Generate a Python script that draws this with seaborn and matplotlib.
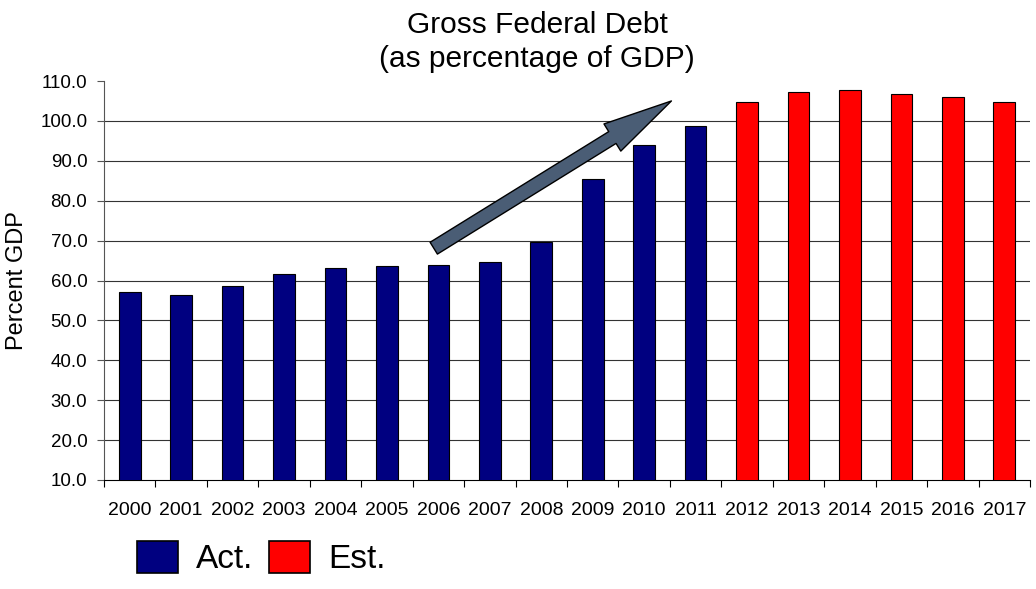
import matplotlib
matplotlib.use("Agg")
import matplotlib.pyplot as plt
import seaborn as sns
import pandas as pd

years = ["2000", "2001", "2002", "2003", "2004", "2005", "2006", "2007", "2008",
         "2009", "2010", "2011", "2012", "2013", "2014", "2015", "2016", "2017"]
debt = [57.2, 56.3, 58.7, 61.6, 63.1, 63.6, 64.0, 64.6, 69.6,
        85.4, 94.0, 98.6, 104.7, 107.2, 107.7, 106.8, 105.9, 104.7]
status = ["Act."] * 12 + ["Est."] * 6
yticks = [10.0, 20.0, 30.0, 40.0, 50.0, 60.0, 70.0, 80.0, 90.0, 100.0, 110.0]

df = pd.DataFrame({"Year": years, "Debt": debt, "Status": status})

sns.set_style("white")
plt.rcParams["font.family"] = ["Liberation Sans", "DejaVu Sans"]
plt.rcParams["text.color"] = "black"
plt.rcParams["axes.labelcolor"] = "black"
plt.rcParams["xtick.color"] = "black"
plt.rcParams["ytick.color"] = "black"

fig = plt.figure(figsize=(10.36, 5.89), dpi=100)
ax = fig.add_axes([104 / 1036, 1 - 480 / 589, 926 / 1036, 399 / 589])

sns.barplot(data=df, x="Year", y="Debt", hue="Status",
            palette={"Act.": "#000080", "Est.": "#FF0000"},
            saturation=1, dodge=False, width=0.42, edgecolor="black", linewidth=0.8,
            ax=ax, zorder=3)

ax.set_xlim(-0.5, len(years) - 0.5)
ax.set_ylim(10, 110)
ax.set_yticks(yticks)
ax.set_yticklabels([f"{v:.1f}" for v in yticks], fontsize=13.5)
ax.tick_params(axis="y", direction="out", length=5, width=0.8, color="#555555", pad=7, left=True,
               labelcolor="black")
ax.tick_params(axis="x", which="major", length=0, pad=16, labelsize=14, labelcolor="black")
ax.set_xticks([i + 0.5 for i in range(-1, len(years))], minor=True)
ax.tick_params(axis="x", which="minor", direction="out", length=5, width=0.8, color="black", bottom=True)

ax.yaxis.grid(True, color="#333333", linewidth=0.8, zorder=0)
ax.set_axisbelow(True)
ax.get_ygridlines()[-1].set_visible(False)
ax.get_ygridlines()[0].set_visible(False)

for s in ["top", "right"]:
    ax.spines[s].set_visible(False)
ax.spines["left"].set_color("#555555")
ax.spines["left"].set_linewidth(0.8)
ax.spines["bottom"].set_color("black")
ax.spines["bottom"].set_linewidth(0.8)

ax.set_xlabel("")
ax.set_ylabel("Percent GDP", fontsize=17, labelpad=9, color="black")

fig.text(537 / 1036, 1 - 42 / 589, "Gross Federal Debt\n(as percentage of GDP)",
         ha="center", va="center", fontsize=21.5, linespacing=1.25, color="black")

ax.annotate("", xy=(10.53, 105.0), xytext=(5.91, 68.1),
            arrowprops=dict(arrowstyle="simple,head_length=5.0,head_width=2.3,tail_width=1.0",
                            mutation_scale=10, fc="#4A5D75", ec="black", lw=1.0,
                            shrinkA=0, shrinkB=0),
            zorder=5, annotation_clip=False)

handles, labels = ax.get_legend_handles_labels()
ax.legend_.remove()
for h in handles:
    h.set_edgecolor("black")
    h.set_linewidth(1.2)
fig.legend(handles, labels, loc="center left",
           bbox_to_anchor=(137 / 1036, 1 - 558 / 589), ncol=2, frameon=False,
           fontsize=24, handlelength=1.23, handleheight=1.08,
           handletextpad=0.55, columnspacing=0.45, borderpad=0, borderaxespad=0)

fig.savefig("out.png", dpi=100)
